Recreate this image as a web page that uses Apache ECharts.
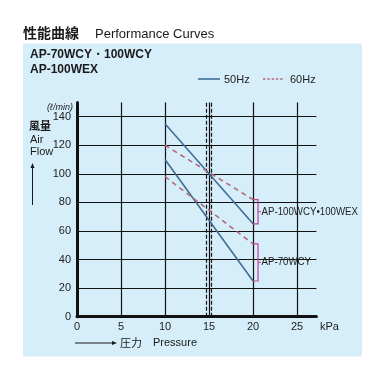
<!DOCTYPE html>
<html><head><meta charset="utf-8">
<script src="https://cdn.jsdelivr.net/npm/echarts@6/dist/echarts.min.js"></script>
<style>html,body{margin:0;padding:0;background:#fff}#c{width:384px;height:384px}</style>
</head><body><div id="c"></div>
<script>
// ---- data ----
const pressure = [10, 20];                 // kPa
const flow50_100 = [135, 65];              // AP-100WCY/100WEX 50Hz
const flow60_100 = [120, 82];              // AP-100WCY/100WEX 60Hz
const flow50_70 = [110, 25];               // AP-70WCY 50Hz
const flow60_70 = [98, 51];                // AP-70WCY 60Hz
const xTicks = [0, 5, 10, 15, 20, 25];
const yTicks = [0, 20, 40, 60, 80, 100, 120, 140];
const ratedLines = [14.7, 15.2];           // dashed reference lines
const legendNames = ['50Hz', '60Hz'];
const bracketLabels = ['AP-100WCY•100WEX', 'AP-70WCY'];
const bracketData = [
  [pressure[1], flow60_100[1], flow50_100[1], 0],
  [pressure[1], flow60_70[1], flow50_70[1], 1]
];

const C50 = '#3f6e95', C60 = '#b46c78', CB = '#c2409e';
const FONT = 'Liberation Sans, Arial, sans-serif';
const JFONT = '"Noto Sans CJK JP", sans-serif';
const pair = (ys) => pressure.map((x, i) => [x, ys[i]]);

const chart = echarts.init(document.getElementById('c'), null, {renderer: 'canvas'});
chart.setOption({
  backgroundColor: '#ffffff',
  animation: false,
  grid: {left: 77, top: 102.4, width: 239.4, height: 214.3, containLabel: false},
  xAxis: {
    type: 'value', min: 0, max: 27.2, interval: 5,
    axisLine: {show: true, lineStyle: {color: '#111', width: 3}},
    axisTick: {show: false},
    axisLabel: {showMaxLabel: false, margin: 5, fontFamily: FONT, fontSize: 11, color: '#222',
      formatter: v => xTicks.includes(v) ? String(v) : ''},
    splitLine: {show: true, showMaxLine: false, lineStyle: {color: '#111', width: 1.2}}
  },
  yAxis: {
    type: 'value', min: 0, max: 150, interval: 20,
    axisLine: {show: true, lineStyle: {color: '#111', width: 3}},
    axisTick: {show: false},
    axisLabel: {showMaxLabel: false, margin: 6, fontFamily: FONT, fontSize: 11, color: '#222',
      formatter: v => yTicks.includes(v) ? String(v) : ''},
    splitLine: {show: true, showMaxLine: false, lineStyle: {color: '#111', width: 1.2}}
  },
  series: [
    {name: legendNames[0], type: 'line', data: pair(flow50_100), symbol: 'none', color: C50,
      lineStyle: {color: C50, width: 1.6}, z: 5,
      markLine: {silent: true, symbol: 'none', label: {show: false},
        lineStyle: {color: '#111', type: [4, 2], width: 1.2},
        data: ratedLines.map(v => ({xAxis: v}))}},
    {name: legendNames[1], type: 'line', data: pair(flow60_100), symbol: 'none', color: C60,
      lineStyle: {color: C60, width: 1.6, type: [5, 4]}, z: 5},
    {name: legendNames[0], type: 'line', data: pair(flow50_70), symbol: 'none', color: C50,
      lineStyle: {color: C50, width: 1.6}, z: 5},
    {name: legendNames[1], type: 'line', data: pair(flow60_70), symbol: 'none', color: C60,
      lineStyle: {color: C60, width: 1.6, type: [5, 4]}, z: 5},
    {type: 'custom', data: bracketData, clip: false, z: 6, silent: true,
      renderItem: function (params, api) {
        const x = api.value(0), top = api.value(1), bot = api.value(2), idx = api.value(3);
        const p1 = api.coord([x, top]), p2 = api.coord([x, bot]);
        const bx = p1[0] + 5;
        const my = (p1[1] + p2[1]) / 2;
        return {type: 'group', children: [
          {type: 'polyline', shape: {points: [[p1[0], p1[1]], [bx, p1[1]], [bx, p2[1]], [p1[0], p2[1]]]},
            style: {stroke: CB, fill: null, lineWidth: 1.2}},
          {type: 'line', shape: {x1: bx, y1: my, x2: bx + 3, y2: my}, style: {stroke: CB, lineWidth: 1}},
          {type: 'text', x: bx + 3.5, y: my, scaleX: 0.88,
            style: {text: bracketLabels[idx], x: 0, y: 0, verticalAlign: 'middle',
            align: 'left', font: '11px ' + FONT, fill: '#222'}}
        ]};
      }}
  ],
  graphic: [
    {type: 'rect', shape: {x: 23, y: 43.5, width: 339, height: 313}, style: {fill: '#d6eef9'}, z: -10, silent: true},
    {type: 'text', style: {text: '性能曲線', x: 23, y: 33, verticalAlign: 'middle', font: 'bold 14px ' + JFONT, fill: '#1a1a1a'}},
    {type: 'text', style: {text: 'Performance Curves', x: 95, y: 34, verticalAlign: 'middle', font: '13px ' + FONT, fill: '#1a1a1a'}},
    {type: 'text', style: {text: 'AP-70WCY・100WCY', x: 30, y: 55, verticalAlign: 'middle', font: 'bold 12px ' + FONT, fill: '#1a1a1a'}},
    {type: 'text', style: {text: 'AP-100WEX', x: 30, y: 70, verticalAlign: 'middle', font: 'bold 12px ' + FONT, fill: '#1a1a1a'}},
    // legend
    {type: 'line', shape: {x1: 198, y1: 79, x2: 220, y2: 79}, style: {stroke: C50, lineWidth: 1.6}},
    {type: 'text', style: {text: legendNames[0], x: 224, y: 79.5, verticalAlign: 'middle', font: '11px ' + FONT, fill: '#222'}},
    {type: 'line', shape: {x1: 263, y1: 79, x2: 283, y2: 79}, style: {stroke: C60, lineWidth: 1.6, lineDash: [2.5, 1.8]}},
    {type: 'text', style: {text: legendNames[1], x: 290, y: 79.5, verticalAlign: 'middle', font: '11px ' + FONT, fill: '#222'}},
    // axis titles
    {type: 'text', style: {text: '(ℓ/min)', x: 47, y: 107, verticalAlign: 'middle', font: 'italic 9px ' + FONT, fill: '#1a1a1a'}},
    {type: 'text', style: {text: '風量', x: 29, y: 126, verticalAlign: 'middle', font: 'bold 11px ' + JFONT, fill: '#1a1a1a'}},
    {type: 'text', style: {text: 'Air', x: 30, y: 140, verticalAlign: 'middle', font: '11px ' + FONT, fill: '#1a1a1a'}},
    {type: 'text', style: {text: 'Flow', x: 30, y: 151.5, verticalAlign: 'middle', font: '11px ' + FONT, fill: '#1a1a1a'}},
    {type: 'line', shape: {x1: 32.5, y1: 205, x2: 32.5, y2: 166}, style: {stroke: '#1a1a1a', lineWidth: 1}},
    {type: 'polygon', shape: {points: [[32.5, 163], [30.5, 168], [34.5, 168]]}, style: {fill: '#1a1a1a'}},
    {type: 'text', style: {text: 'kPa', x: 320, y: 326.5, verticalAlign: 'middle', font: '11px ' + FONT, fill: '#1a1a1a'}},
    {type: 'line', shape: {x1: 75, y1: 343, x2: 113, y2: 343}, style: {stroke: '#1a1a1a', lineWidth: 1}},
    {type: 'polygon', shape: {points: [[117, 343], [112, 341], [112, 345]]}, style: {fill: '#1a1a1a'}},
    {type: 'text', style: {text: '圧力', x: 120, y: 343, verticalAlign: 'middle', font: '11px ' + JFONT, fill: '#1a1a1a'}},
    {type: 'text', style: {text: 'Pressure', x: 153, y: 343, verticalAlign: 'middle', font: '11px ' + FONT, fill: '#1a1a1a'}}
  ]
});
</script></body></html>
